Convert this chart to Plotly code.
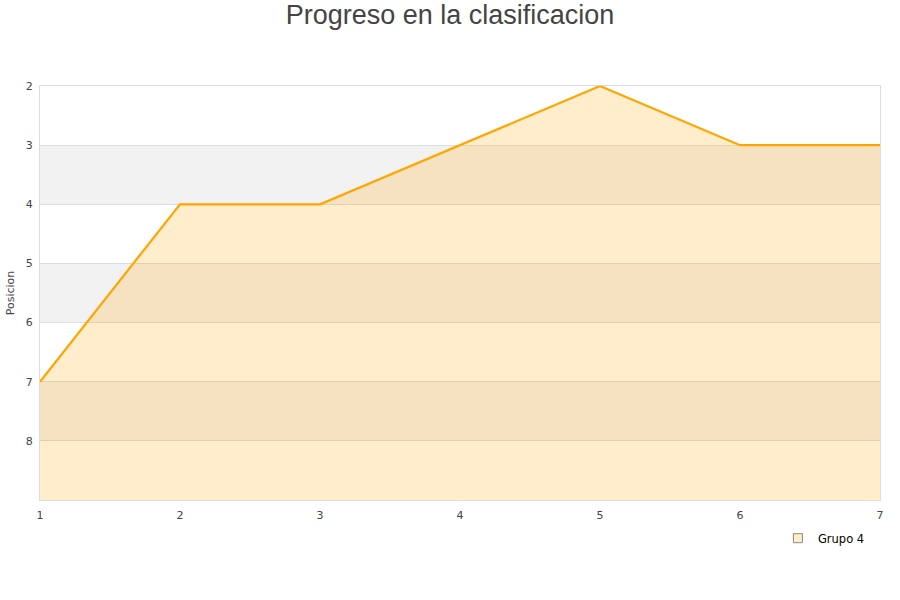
import plotly.graph_objects as go

jornadas = [1, 2, 3, 4, 5, 6, 7]
posicion = [7, 4, 4, 3, 2, 3, 3]
serie = "Grupo 4"
y_ticks = [2, 3, 4, 5, 6, 7, 8]
y_min, y_max = 2, 9
bands = [(3, 4), (5, 6), (7, 8)]

fig = go.Figure()
fig.add_trace(go.Scatter(x=jornadas, y=[y_max] * len(jornadas), mode="lines",
                         line=dict(width=0, color="rgba(0,0,0,0)"),
                         showlegend=False, hoverinfo="skip"))
fig.add_trace(go.Scatter(x=jornadas, y=posicion, mode="lines", fill="tonexty",
                         fillcolor="rgba(255,165,0,0.2)",
                         line=dict(color="#FFA500", width=2.2),
                         name=serie, showlegend=False))
fig.add_trace(go.Scatter(x=[None], y=[None], mode="markers", name=serie,
                         marker=dict(symbol="square", size=9,
                                     color="#FFEDCC",
                                     line=dict(color="#888", width=1))))

for a, b in bands:
    fig.add_shape(type="rect", xref="paper", yref="y", x0=0, x1=1, y0=a, y1=b,
                  fillcolor="#F2F2F2", line=dict(width=0), layer="below")

fig.update_layout(
    width=900, height=600,
    paper_bgcolor="white", plot_bgcolor="white",
    margin=dict(l=40, r=20, t=86, b=100, autoexpand=False),
    title=dict(text="Progreso en la clasificacion", x=0.5, xanchor="center",
               xref="container", yref="container", y=0.975, yanchor="middle",
               font=dict(family="Liberation Sans, Arial", size=27, color="#444")),
    font=dict(family="DejaVu Sans", size=11, color="#444"),
    showlegend=True,
    legend=dict(x=0.988, xanchor="right", yref="container", y=0.103, yanchor="middle",
                bgcolor="rgba(0,0,0,0)", font=dict(size=11.5, color="#000")),
    xaxis=dict(range=[1, 7], dtick=1, showgrid=False, zeroline=False,
               showline=True, linecolor="#DDDDDD", mirror=True, automargin=False,
               ticks="", ticklabelstandoff=5, tickfont=dict(size=11, color="#444")),
    yaxis=dict(range=[y_max, y_min], tickvals=y_ticks, showgrid=True,
               gridcolor="#DDDDDD", zeroline=False, showline=True, automargin=False,
               linecolor="#DDDDDD", mirror=True, ticks="", ticklabelstandoff=4,
               title=dict(text="Posicion", font=dict(size=11, color="#444"), standoff=8),
               tickfont=dict(size=11, color="#444")),
)

fig.write_html("out.html", config={"displayModeBar": False},
               post_script="document.body.style.margin='0';")
